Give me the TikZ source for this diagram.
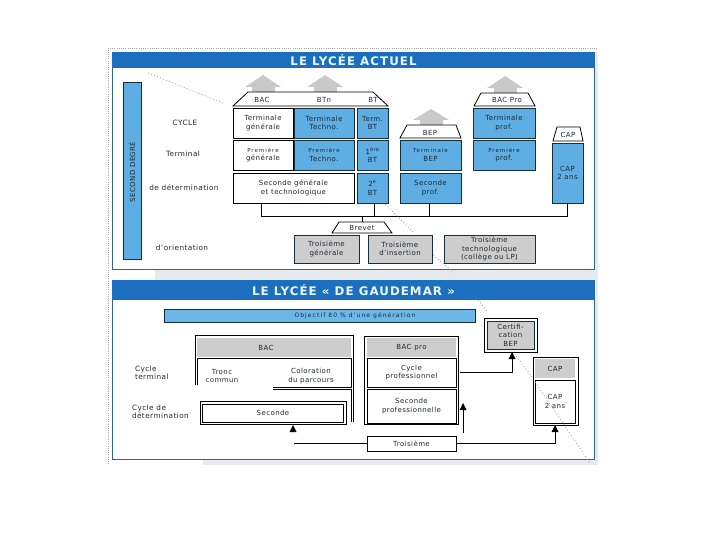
\documentclass[tikz,border=0pt]{standalone}
\usepackage{fontspec}
\setmainfont{DejaVu Sans}
\newfontfamily\labfont[LetterSpace=6]{DejaVu Sans}
\newfontfamily\smallfont[LetterSpace=18]{DejaVu Sans}
\newfontfamily\titlefont[LetterSpace=9]{DejaVu Sans}
\definecolor{headblue}{HTML}{1B6FBE}
\definecolor{boxblue}{HTML}{5FAEE3}
\definecolor{barblue}{HTML}{6DB6E8}
\definecolor{framec}{HTML}{2D6A8A}
\definecolor{darkline}{HTML}{14303F}
\definecolor{pageshade}{HTML}{E6EAEE}
\definecolor{greybox}{HTML}{CDCDCD}
\definecolor{housegrey}{HTML}{C9C9C9}
\definecolor{inkc}{HTML}{1E2A32}
\newcommand\smt{\smallfont\fontsize{5.5}{8.4}\selectfont}
\tikzset{
  every node/.style={inner sep=0pt,outer sep=0pt,align=center,text=inkc,font=\labfont\fontsize{7}{8.4}\selectfont},
  whitebox/.style={draw=black,line width=.9pt,fill=white},
  bluebox/.style={draw=darkline,line width=.9pt,fill=boxblue},
  greyframe/.style={draw=darkline,line width=.9pt,fill=greybox},
  greyplain/.style={fill=greybox},
  frameonly/.style={draw=black,line width=.9pt,fill=white},
  panel/.style={draw=framec,line width=.8pt,fill=white},
  header/.style={fill=headblue},
  titletext/.style={text=white!92!cyan,font=\titlefont\bfseries\fontsize{11.8}{13}\selectfont},
  rowlabel/.style={font=\labfont\fontsize{7.3}{7.6}\selectfont},
  roof/.style={draw=black,line width=.8pt,fill=white},
  house/.style={fill=housegrey},
  wire/.style={draw=black,line width=.8pt},
  tiphead/.style={fill=black},
  noise/.style={draw=black!38,line width=.7pt,dash pattern=on 1pt off 2.2pt},
  edgedots/.style={draw=black!35,line width=.6pt,dash pattern=on .8pt off 1.4pt},
}
\newcommand\bx[7]{\pgfmathsetmacro\mw{#4-#2}\pgfmathsetmacro\mh{#5-#3}\node[#6,minimum width=\mw pt,minimum height=\mh pt,anchor=north west] (#1) at (#2,#3) {#7};}
\newcommand\housearrow[5]{\fill[house] (#1,#2) -- (#4,#3) -- (#1*2-#4-0,#3) -- cycle;
  \fill[house] (#1-11.5,#3-.5) rectangle (#1+11.5,#5);}
\begin{document}
\begin{tikzpicture}[x=1pt,y=-1pt]
\useasboundingbox (0,0) rectangle (720,540);
\fill[white] (0,0) rectangle (720,540);
% page shadows
\fill[pageshade] (155,269) rectangle (598,280);
\fill[pageshade] (594,52) rectangle (598,465);
\fill[pageshade] (203,459) rectangle (598,465);
% page edge dots
\draw[edgedots] (597,48) -- (108,48) -- (108,465);
% panel 1
\bx{panelA}{112}{52}{594}{269}{panel}{}
\bx{headA}{112}{52}{594}{68}{header}{}
\node[titletext] (titleA) at (353.5,60.5) {LE LYCÉE ACTUEL};
\bx{sidebar}{123}{82}{141}{259}{bluebox}{}
\node[rotate=90] (sidetext) at (132,172) {SECOND DEGRÉ};
\node[rowlabel] (lblA) at (185,123) {CYCLE};
\node[rowlabel] (lblB) at (183,154) {Terminal};
\node[rowlabel] (lblC) at (184,188) {de détermination};
\node[rowlabel] (lblD) at (182,248) {d’orientation};
% house arrows
\housearrow{263}{75}{87}{281}{92}
\housearrow{325}{75}{87}{343}{92}
\housearrow{431}{109}{120}{449}{125}
\housearrow{505}{76}{88}{523}{93}
% roofs
\draw[roof] (233,106) -- (248,92) -- (373,92) -- (388,106) -- cycle;
\node (rBAC) at (262,100) {BAC};
\node (rBTn) at (324,100) {BTn};
\node (rBT) at (373,100) {BT};
\draw[roof] (400,138) -- (407,125) -- (456,125) -- (461,138) -- cycle;
\node (rBEP) at (430,132.5) {BEP};
\draw[roof] (474,106) -- (481,93) -- (528,93) -- (535,106) -- cycle;
\node (rPro) at (507,100) {BAC Pro};
\draw[roof] (553,141) -- (557,127) -- (580,127) -- (583,141) -- cycle;
\node (rCAP) at (568,134.5) {CAP};
% boxes panel 1
\bx{tg}{233}{108}{293}{138}{whitebox}{Terminale\\générale}
\bx{tt}{294}{108}{354}{138}{bluebox}{Terminale\\Techno.}
\bx{tb}{357}{108}{388}{138}{bluebox}{Term.\\BT}
\bx{pg}{233}{140}{293}{170}{whitebox}{{\smt Première}\\générale}
\bx{pt}{294}{140}{354}{170}{bluebox}{{\smt Première}\\Techno.}
\bx{pb}{357}{140}{388}{170}{bluebox}{1\textsuperscript{ère}\\BT}
\bx{sg}{233}{173}{354}{203}{whitebox}{Seconde générale\\et technologique}
\bx{sb}{357}{173}{388}{203}{bluebox}{2\textsuperscript{e}\\BT}
\bx{bepT}{400}{140}{461}{170}{bluebox}{{\smt Terminale}\\BEP}
\bx{bepS}{400}{173}{461}{203}{bluebox}{Seconde\\prof.}
\bx{proT}{473}{108}{535}{138}{bluebox}{Terminale\\prof.}
\bx{proP}{473}{140}{535}{170}{bluebox}{{\smt Première}\\prof.}
\bx{capA}{552}{143}{583}{203}{bluebox}{CAP\\2 ans}
% bus
\coordinate (busL) at (261,216);
\coordinate (busR) at (567,216);
\coordinate (busS) at (362,216);
\coordinate (busB) at (374,216);
\coordinate (busE) at (429,216);
\draw[wire] (sg.south -| busL) -- (busL) -- (busR) -- (capA.south -| busR);
\draw[wire] (sb.south -| busB) -- (busB);
\draw[wire] (bepS.south -| busE) -- (busE);
\draw[roof] (332,233) -- (339,222) -- (384,222) -- (392,233) -- cycle;
\node (brevet) at (362,227.5) {Brevet};
\coordinate (brevetTop) at (362,222);
\draw[wire] (busS) -- (brevetTop);
\bx{t3g}{294}{235}{359}{263}{greyframe}{Troisième\\générale}
\bx{t3i}{368}{235}{432}{263}{greyframe}{Troisième\\d’insertion}
\bx{t3t}{444}{235}{535}{263}{greyframe}{Troisième\\technologique\\(collège ou LP)}
% panel 2
\bx{panelB}{112}{280}{594}{459}{panel}{}
\bx{headB}{112}{280}{594}{300}{header}{}
\node[titletext] (titleB) at (353.5,290.5) {LE LYCÉE « DE GAUDEMAR »};
\bx{objectif}{164}{309}{475}{322}{draw=darkline,line width=.8pt,fill=barblue}{}
\node[font=\smallfont\fontsize{6}{7}\selectfont,text=darkline] (objtext) at (355,315.5) {Objectif 80 \% d’une génération};
% BAC block (open frame)
\draw[draw=black,line width=.9pt] (195,385) -- (195,335) -- (353,335) -- (353,422);
\fill[greybox] (197,338) rectangle (351,357);
\node (bacH) at (266,347.5) {BAC};
\draw[draw=black,line width=.9pt] (197,385) -- (197,358) -- (351,358) -- (351,387) -- (273,387);
\draw[draw=black,line width=.9pt] (273,389) -- (351,389) -- (351,422);
\node (tronc) at (222,376) {Tronc\\commun};
\node (color) at (311,376) {Coloration\\du parcours};
\node[rowlabel,align=left,anchor=west] (lblE) at (135,373) {Cycle\\terminal};
\node[rowlabel,align=left,anchor=west] (lblF) at (132,412) {Cycle de\\détermination};
\bx{secO}{200}{401}{346}{424}{frameonly}{}
\bx{secI}{202.5}{404}{343.5}{422}{frameonly}{Seconde}
% BAC pro block
\bx{proO}{364}{336}{458}{424}{frameonly}{}
\bx{proH}{367}{338}{456}{357}{greyplain}{BAC pro}
\bx{proC}{367}{358}{456}{387}{frameonly}{Cycle\\professionnel}
\bx{proS}{367}{389}{456}{423}{frameonly}{Seconde\\professionnelle}
% certification
\bx{certO}{484}{318}{537}{352}{frameonly}{}
\bx{certI}{487}{321}{534}{349}{greyframe}{Certifi-\\cation\\BEP}
% CAP
\bx{capO}{533}{357}{578}{425}{frameonly}{}
\bx{capH}{535}{359}{575}{378}{greyplain}{CAP}
\bx{capB}{535}{380}{575}{423}{frameonly}{CAP\\2 ans}
% troisieme
\bx{t3}{367}{436}{456}{451}{frameonly}{Troisième}
\coordinate (wireL) at (294,443.5);
\coordinate (upStart) at (463,433);
\coordinate (upEnd) at (463,409);
\coordinate (cycOut) at (460,372);
\coordinate (certDrop) at (512,372);
\coordinate (capDrop) at (555,443.5);
\draw[wire] (t3.west) -- (wireL);
\draw[wire] (t3.east) -- (capDrop) -- (capO.south -| capDrop);
\draw[wire] (upStart) -- (upEnd);
\draw[wire] (cycOut) -- (certDrop) -- (certO.south -| certDrop);
\fill[tiphead] (293,425) -- (296.5,432) -- (289.5,432) -- cycle;
\fill[tiphead] (463,403) -- (466.5,410) -- (459.5,410) -- cycle;
\fill[tiphead] (512,352) -- (515.5,359) -- (508.5,359) -- cycle;
\fill[tiphead] (555,425) -- (558.5,432) -- (551.5,432) -- cycle;
% scan residue
\draw[noise] (148,73) -- (223,103);
\draw[noise] (383,202) -- (413,232);
\draw[noise] (433,255) -- (453,272);
\draw[noise] (478,300) -- (488,312);
\draw[noise] (516,356) -- (532,377);
\draw[noise] (535,382) -- (590,463);
\end{tikzpicture}
\end{document}
